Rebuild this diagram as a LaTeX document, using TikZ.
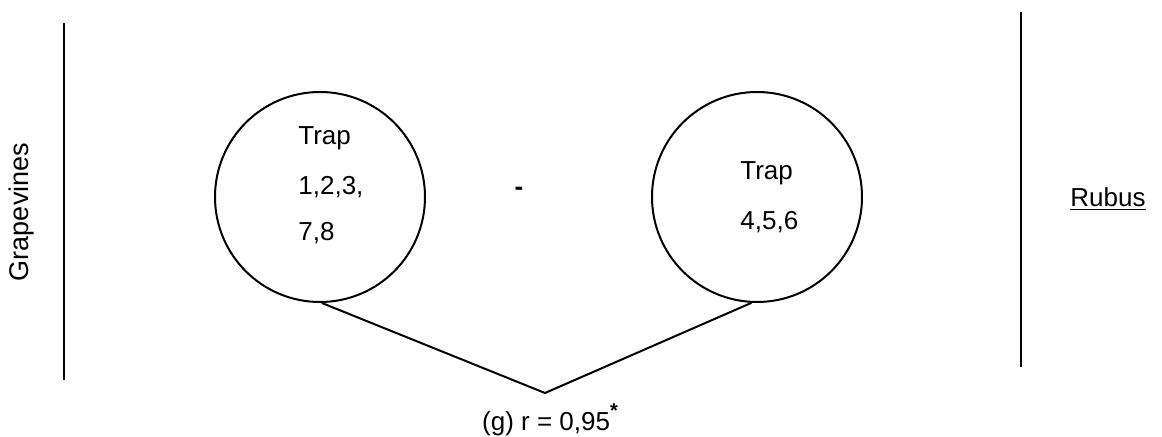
\documentclass[tikz,border=0pt]{standalone}
\usepackage{fontspec}
\setmainfont{Liberation Sans}
\begin{document}
\begin{tikzpicture}[x=0.5pt,y=-0.5pt,
  ln/.style={line width=1pt},
  trap/.style={circle,draw,line width=1pt,minimum size=105pt,inner sep=0pt},
  lbl/.style={font=\fontsize{13}{15}\selectfont,inner sep=0pt}]
\useasboundingbox (0,0) rectangle (1162,437);
% side bars
\coordinate (lt) at (64,23);
\coordinate (lb) at (64,380);
\coordinate (rt) at (1021,12);
\coordinate (rb) at (1021,367);
\draw[ln] (lt) -- (lb);
\draw[ln] (rt) -- (rb);
\node[lbl,rotate=90,font=\fontsize{13.5}{15}\selectfont] (grape) at (22,212) {Grapevines};
\node[lbl] (rubus) at (1108,199) {\underline{Rubus}};
% circles
\node[trap] (lc) at (320,197) {};
\node[trap] (rc) at (757,197) {};
\node[lbl,anchor=west] (lt1) at (298,138) {Trap};
\node[lbl,anchor=west] (lt2) at (298,187) {1,2,3,};
\node[lbl,anchor=west] (lt3) at (298,233) {7,8};
\node[lbl,anchor=west] (rt1) at (740,173) {Trap};
\node[lbl,anchor=west] (rt2) at (740,222) {4,5,6};
\node[lbl] (dash) at (519,191) {\textbf{-}};
% V connector
\coordinate (apex) at (545,393);
\draw[ln] (lc.-89) -- (apex) -- (rc.-93);
\node[lbl] (r) at (550,420) {(g) r = 0,95\raisebox{0.9ex}{\fontsize{10}{10}\selectfont\textbf{*}}};
\end{tikzpicture}
\end{document}
